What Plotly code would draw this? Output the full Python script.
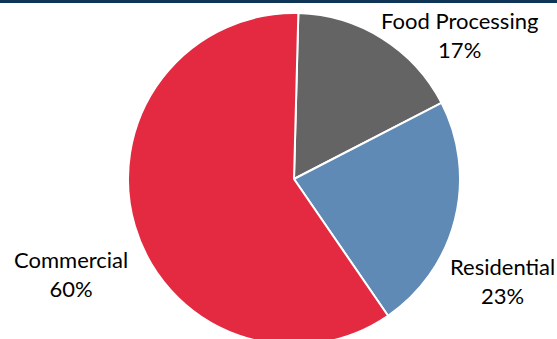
import plotly.graph_objects as go

# Data
categories = ["Food Processing", "Residential", "Commercial"]
shares = [17, 23, 60]
colors = ["#646464", "#5E8AB5", "#E32A40"]

W, H = 557, 346
CX, CY, R = 294, 179, 166

fig = go.Figure(
    go.Pie(
        labels=categories,
        values=shares,
        sort=False,
        direction="clockwise",
        rotation=1.5,
        marker=dict(colors=colors, line=dict(color="white", width=2)),
        textinfo="none",
        hoverinfo="label+percent",
        domain=dict(x=[(CX - R) / W, (CX + R) / W],
                    y=[1 - (CY + R) / H, 1 - (CY - R) / H]),
        showlegend=False,
    )
)

# label placements (pixel centers -> paper)
label_pos = {
    "Food Processing": (459, 35),
    "Residential": (502, 281),
    "Commercial": (71, 274),
}
total = sum(shares)
for cat, val in zip(categories, shares):
    px, py = label_pos[cat]
    fig.add_annotation(
        x=px / W, y=1 - py / H, xref="paper", yref="paper",
        text=f"{cat}<br>{round(val / total * 100)}%",
        showarrow=False, xanchor="center", yanchor="middle",
        font=dict(family="Lato", size=22, color="#000000"),
    )

fig.add_shape(type="rect", xref="paper", yref="paper",
              x0=0, x1=1, y0=1 - 3 / H, y1=1,
              fillcolor="#0E3556", line=dict(width=0), layer="above")

fig.update_layout(
    width=W, height=H,
    margin=dict(l=0, r=0, t=0, b=0),
    paper_bgcolor="white", plot_bgcolor="white",
)

fig.write_html(
    "out.html",
    config={"displayModeBar": False},
    post_script="document.body.style.margin='0';document.body.style.overflow='hidden';",
)
